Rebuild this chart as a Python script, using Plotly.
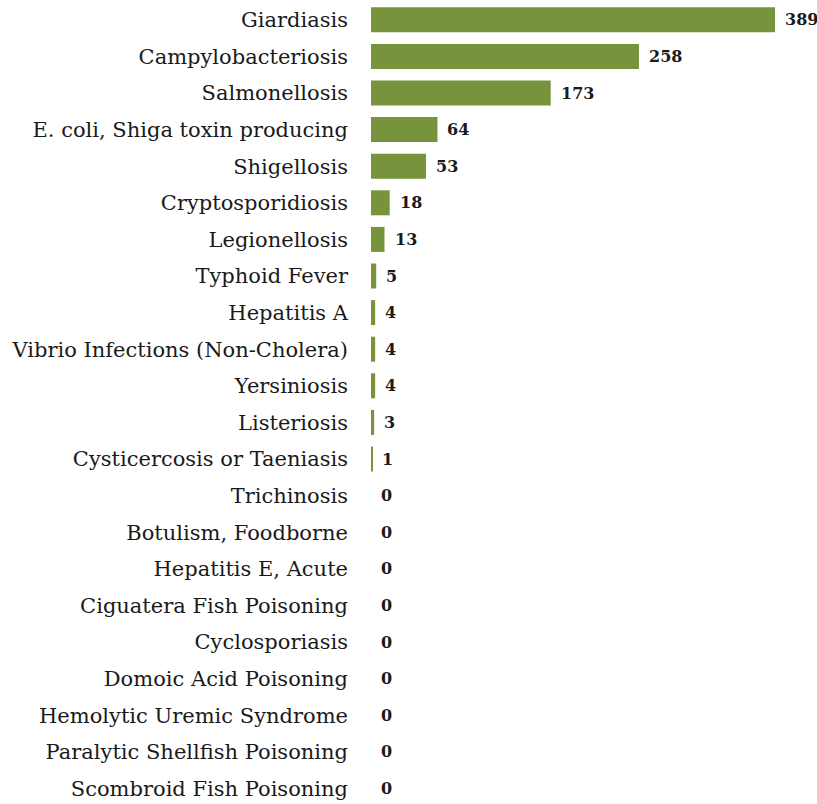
import plotly.graph_objects as go

diseases = [
    "Giardiasis",
    "Campylobacteriosis",
    "Salmonellosis",
    "E. coli, Shiga toxin producing",
    "Shigellosis",
    "Cryptosporidiosis",
    "Legionellosis",
    "Typhoid Fever",
    "Hepatitis A",
    "Vibrio Infections (Non-Cholera)",
    "Yersiniosis",
    "Listeriosis",
    "Cysticercosis or Taeniasis",
    "Trichinosis",
    "Botulism, Foodborne",
    "Hepatitis E, Acute",
    "Ciguatera Fish Poisoning",
    "Cyclosporiasis",
    "Domoic Acid Poisoning",
    "Hemolytic Uremic Syndrome",
    "Paralytic Shellfish Poisoning",
    "Scombroid Fish Poisoning",
]
cases = [389, 258, 173, 64, 53, 18, 13, 5, 4, 4, 4, 3, 1, 0, 0, 0, 0, 0, 0, 0, 0, 0]

BAR_COLOR = "#77933C"
TEXT_COLOR = "#1a1a1a"

fig = go.Figure()
fig.add_trace(go.Bar(
    x=cases,
    y=diseases,
    orientation="h",
    marker=dict(color=BAR_COLOR, line=dict(width=0)),
    hoverinfo="skip",
))

# value labels just right of each bar end
for name, val in zip(diseases, cases):
    fig.add_annotation(
        x=val, y=name, xref="x", yref="y",
        text=f"<b>{val}</b>", showarrow=False,
        xanchor="left", yanchor="middle", xshift=8,
        font=dict(family="DejaVu Serif", size=16, color=TEXT_COLOR),
    )

fig.update_layout(
    width=817, height=804,
    margin=dict(l=371, r=0, t=0, b=0, pad=0),
    paper_bgcolor="white", plot_bgcolor="white",
    bargap=0.317,
    showlegend=False,
    font=dict(family="DejaVu Serif", size=21, color=TEXT_COLOR),
)
fig.update_xaxes(range=[0, 446 / 1.0386], visible=False, showgrid=False, zeroline=False)
fig.update_yaxes(
    categoryorder="array", categoryarray=diseases,
    range=[21.426, -0.541],
    showgrid=False, zeroline=False, showline=False, ticks="",
    ticklabelstandoff=22,
    tickfont=dict(family="DejaVu Serif", size=21, color=TEXT_COLOR),
)

fig.write_html("out.html")
